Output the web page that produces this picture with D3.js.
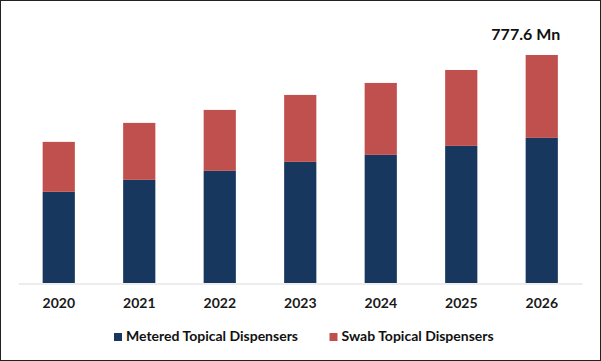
<!DOCTYPE html>
<html>
<head>
<meta charset="utf-8">
<script src="https://cdn.jsdelivr.net/npm/d3@7"></script>
<style>
  body { margin: 0; background: #fff; }
  svg { display: block; font-family: Lato, "Open Sans", sans-serif; }
</style>
</head>
<body>
<svg></svg>
<script>
// chart values (USD Mn)
var years = ["2020", "2021", "2022", "2023", "2024", "2025", "2026"];
var metered = [311.0, 351.8, 382.5, 413.2, 437.0, 467.7, 494.9];
var swab = [170.3, 194.2, 207.8, 228.2, 245.3, 258.8, 282.7];
var seriesNames = ["Metered Topical Dispensers", "Swab Topical Dispensers"];
var totalLabel = "777.6 Mn";

var width = 601;
var height = 361;

var svg = d3.select("svg")
            .attr("width", width)
            .attr("height", height);

// frame around the picture
svg.append("rect")
   .attr("x", 0.5)
   .attr("y", 0.5)
   .attr("width", width - 1)
   .attr("height", height - 1)
   .attr("fill", "#fff")
   .attr("stroke", "#222")
   .attr("stroke-width", 1);

var rows = years.map(function(y, i) {
  return { year: y, metered: metered[i], swab: swab[i] };
});

var stack = d3.stack().keys(["metered", "swab"]);
var layers = stack(rows);

var xScale = d3.scaleBand()
               .domain(years)
               .range([18.5, 582])
               .paddingInner(0.6)
               .paddingOuter(0.3);

var yScale = d3.scaleLinear()
               .domain([0, 777.6])
               .range([283, 55]);

var colors = d3.scaleOrdinal()
               .domain(["metered", "swab"])
               .range(["#17375e", "#c0504d"]);

svg.append("g")
   .selectAll("g")
   .data(layers)
   .enter().append("g")
     .attr("fill", d => colors(d.key))
   .selectAll("rect")
   .data(d => d)
   .enter().append("rect")
     .attr("x", d => xScale(d.data.year))
     .attr("width", xScale.bandwidth())
     .attr("y", d => yScale(d[1]))
     .attr("height", d => yScale(d[0]) - yScale(d[1]));

// x axis
var xAxis = svg.append("g")
   .attr("transform", "translate(0,283.5)")
   .call(d3.axisBottom(xScale).tickSize(0).tickPadding(15));

xAxis.select(".domain").attr("stroke", "#d9d9d9");
xAxis.selectAll("text")
     .attr("fill", "#1a1a1a")
     .style("font-size", "14px")
     .style("font-weight", "bold")
     .style("font-family", "Lato, 'Open Sans', sans-serif");

// total on the last bar
svg.append("text")
   .attr("x", xScale("2026") + xScale.bandwidth() / 2 - 16)
   .attr("y", 39.5)
   .attr("text-anchor", "middle")
   .attr("fill", "#111")
   .style("font-size", "16px")
   .style("font-weight", "bold")
   .text(totalLabel);

// legend
var legendX = [114, 329.5];
var legend = svg.append("g")
   .selectAll("g")
   .data(["metered", "swab"])
   .enter().append("g")
     .attr("transform", (d, i) => "translate(" + legendX[i] + ",333)");

legend.append("rect")
      .attr("width", 8)
      .attr("height", 8)
      .attr("fill", d => colors(d));

legend.append("text")
      .attr("x", 12)
      .attr("y", 8)
      .attr("fill", "#111")
      .style("font-size", "14px")
      .style("font-weight", "bold")
      .text((d, i) => seriesNames[i]);
</script>
</body>
</html>
